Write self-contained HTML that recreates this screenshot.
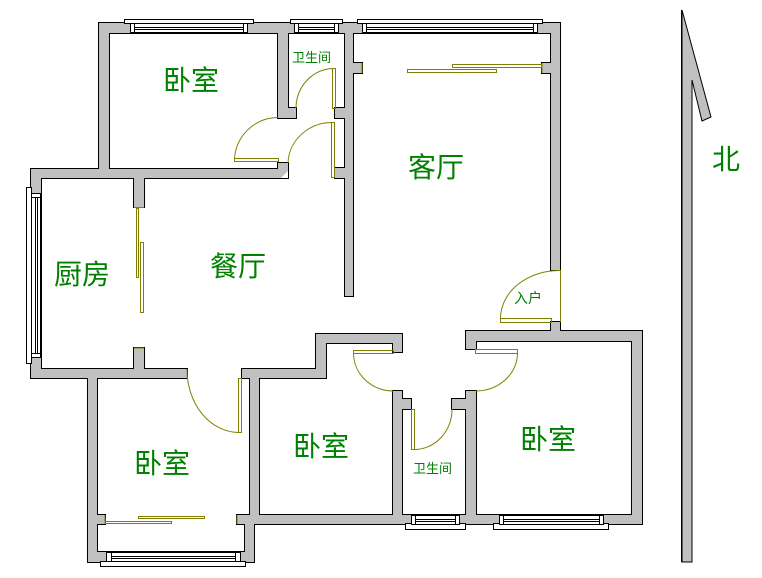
<!DOCTYPE html>
<html><head><meta charset="utf-8"><style>
html,body{margin:0;padding:0;background:#fff;width:762px;height:578px;overflow:hidden}
svg{display:block}
text{font-family:"Liberation Sans","WenQuanYi Zen Hei","Noto Sans CJK SC",sans-serif;fill:#008000}
</style></head><body>
<svg width="762" height="578" viewBox="0 0 762 578" xmlns="http://www.w3.org/2000/svg">
<defs>
<g id="walls">
<rect x="99" y="23" width="189" height="10"/>
<rect x="278" y="23" width="282" height="10"/>
<rect x="99" y="23" width="10" height="155"/>
<rect x="31" y="169" width="257" height="9"/>
<rect x="278" y="23" width="10" height="95"/>
<rect x="278" y="163" width="10" height="15"/>
<rect x="278" y="108" width="18" height="10"/>
<rect x="335" y="108" width="18" height="10"/>
<rect x="335" y="168" width="18" height="10"/>
<rect x="345" y="23" width="8" height="273"/>
<rect x="345" y="63" width="17" height="10"/>
<rect x="542" y="63" width="18" height="10"/>
<rect x="551" y="23" width="9" height="247"/>
<rect x="551" y="322" width="9" height="19"/>
<rect x="31" y="169" width="10" height="209"/>
<rect x="134" y="178" width="10" height="29"/>
<rect x="134" y="348" width="10" height="30"/>
<rect x="31" y="369" width="156" height="9"/>
<rect x="88" y="369" width="9" height="193"/>
<rect x="88" y="552" width="166" height="10"/>
<rect x="245" y="515" width="9" height="47"/>
<rect x="97" y="515" width="8" height="9"/>
<rect x="237" y="515" width="405" height="9"/>
<rect x="250" y="369" width="9" height="155"/>
<rect x="242" y="369" width="84" height="9"/>
<rect x="316" y="334" width="10" height="44"/>
<rect x="316" y="334" width="86" height="9"/>
<rect x="393" y="334" width="9" height="18"/>
<rect x="393" y="391" width="9" height="133"/>
<rect x="393" y="399" width="18" height="10"/>
<rect x="452" y="399" width="24" height="10"/>
<rect x="466" y="391" width="10" height="133"/>
<rect x="466" y="331" width="10" height="18"/>
<rect x="466" y="331" width="176" height="10"/>
<rect x="632" y="331" width="10" height="193"/>
</g>
</defs>
<use href="#walls" fill="#000" stroke="#000" stroke-width="2"/>
<use href="#walls" fill="#c0c0c0"/>
<polygon points="281,178 288,178 288,171" fill="#fff"/>

<g fill="#fff" stroke="#000" stroke-width="1">
<rect x="124.5" y="19.5" width="129" height="4"/>
<rect x="130.5" y="23.5" width="117" height="9"/>
<line x1="134" y1="27.5" x2="243" y2="27.5"/><line x1="134" y1="29.5" x2="243" y2="29.5"/>
<rect x="130.5" y="23.5" width="4" height="9"/><rect x="243.5" y="23.5" width="4" height="9"/>
<rect x="290.5" y="19.5" width="52" height="4"/>
<rect x="294.5" y="23.5" width="44" height="9"/>
<line x1="298" y1="27.5" x2="335" y2="27.5"/><line x1="298" y1="29.5" x2="335" y2="29.5"/>
<rect x="294.5" y="23.5" width="4" height="9"/><rect x="334.5" y="23.5" width="4" height="9"/>
<rect x="357.5" y="19.5" width="185" height="4"/>
<rect x="362.5" y="23.5" width="175" height="9"/>
<line x1="366" y1="27.5" x2="533" y2="27.5"/><line x1="366" y1="29.5" x2="533" y2="29.5"/>
<rect x="362.5" y="23.5" width="4" height="9"/><rect x="533.5" y="23.5" width="4" height="9"/>
<rect x="26.5" y="187.5" width="5" height="176"/>
<rect x="31.5" y="193.5" width="9" height="164"/>
<line x1="35.5" y1="197" x2="35.5" y2="353"/><line x1="37.5" y1="197" x2="37.5" y2="353"/>
<rect x="31.5" y="193.5" width="9" height="4"/><rect x="31.5" y="353.5" width="9" height="4"/>
<rect x="100.5" y="561.5" width="145" height="5"/>
<rect x="106.5" y="552.5" width="133" height="9"/>
<line x1="111" y1="556.5" x2="235" y2="556.5"/><line x1="111" y1="558.5" x2="235" y2="558.5"/>
<rect x="106.5" y="552.5" width="5" height="9"/><rect x="235.5" y="552.5" width="5" height="9"/>
<rect x="405.5" y="523.5" width="60" height="6"/>
<rect x="411.5" y="515.5" width="48" height="9"/>
<line x1="416" y1="519.5" x2="455" y2="519.5"/><line x1="416" y1="521.5" x2="455" y2="521.5"/>
<rect x="411.5" y="515.5" width="4" height="9"/><rect x="455.5" y="515.5" width="4" height="9"/>
<rect x="493.5" y="523.5" width="115" height="6"/>
<rect x="499.5" y="515.5" width="104" height="9"/>
<line x1="504" y1="519.5" x2="599" y2="519.5"/><line x1="504" y1="521.5" x2="599" y2="521.5"/>
<rect x="499.5" y="515.5" width="4" height="9"/><rect x="599.5" y="515.5" width="4" height="9"/>
</g>

<g fill="none" stroke="#808000" stroke-width="1">
<rect x="234.5" y="158.5" width="44" height="3"/>
<path d="M234.5,158.5 A44,44 0 0 1 278.5,117.5"/>
<rect x="332.5" y="68.5" width="3" height="40"/>
<path d="M296,108 A38,40 0 0 1 333,68.5"/>
<rect x="331.5" y="122.5" width="3" height="55"/>
<path d="M288,163 A44,42 0 0 1 331.5,122.5"/>
<rect x="407.5" y="69.5" width="89" height="3"/>
<rect x="452.5" y="64.5" width="89" height="3"/>
<line x1="362" y1="63" x2="362" y2="73"/><line x1="542" y1="63" x2="542" y2="73"/>
<rect x="136.5" y="208.5" width="2" height="69"/>
<rect x="140.5" y="242.5" width="3" height="70"/>
<line x1="144" y1="207.5" x2="134" y2="207.5"/><line x1="144" y1="348" x2="134" y2="348"/>
<rect x="500.5" y="318.5" width="51" height="4"/>
<path d="M500.5,318.5 A59,48 0 0 1 560.5,270.5"/>
<line x1="560.5" y1="270" x2="560.5" y2="322"/>
<rect x="238.5" y="378.5" width="3" height="54"/>
<path d="M187,369 A52,63 0 0 0 238.5,432.5"/>
<rect x="353.5" y="350.5" width="40" height="3"/>
<path d="M353.5,353 A40,38 0 0 0 393,391"/>
<rect x="475.5" y="349.5" width="42" height="4"/>
<path d="M517.5,353 A42,38 0 0 1 476,391"/>
<rect x="411.5" y="409.5" width="3" height="40"/>
<path d="M414,449.5 A38,40 0 0 0 452,409"/>
<rect x="105.5" y="521.5" width="66" height="2"/>
<rect x="138.5" y="516.5" width="66" height="2"/>
<line x1="105" y1="515" x2="105" y2="524"/><line x1="237" y1="515" x2="237" y2="524"/>
</g>

<polygon points="682,10 711,117 702,121 692,80 692,562 682,562" fill="#c0c0c0" stroke="#000" stroke-width="1"/>
<rect x="681" y="10" width="1.5" height="552" fill="#000"/>

<g font-size="28">
<text x="163" y="90">卧室</text>
<text x="408" y="177">客厅</text>
<text x="210" y="276">餐厅</text>
<text x="54" y="284">厨房</text>
<text x="134" y="473">卧室</text>
<text x="293" y="456">卧室</text>
<text x="520" y="449">卧室</text>
<text x="712" y="169">北</text>
</g>
<g font-size="13">
<text x="292" y="62">卫生间</text>
<text x="413" y="473">卫生间</text>
<text x="514" y="303" font-size="14">入户</text>
</g>
</svg>
</body></html>
